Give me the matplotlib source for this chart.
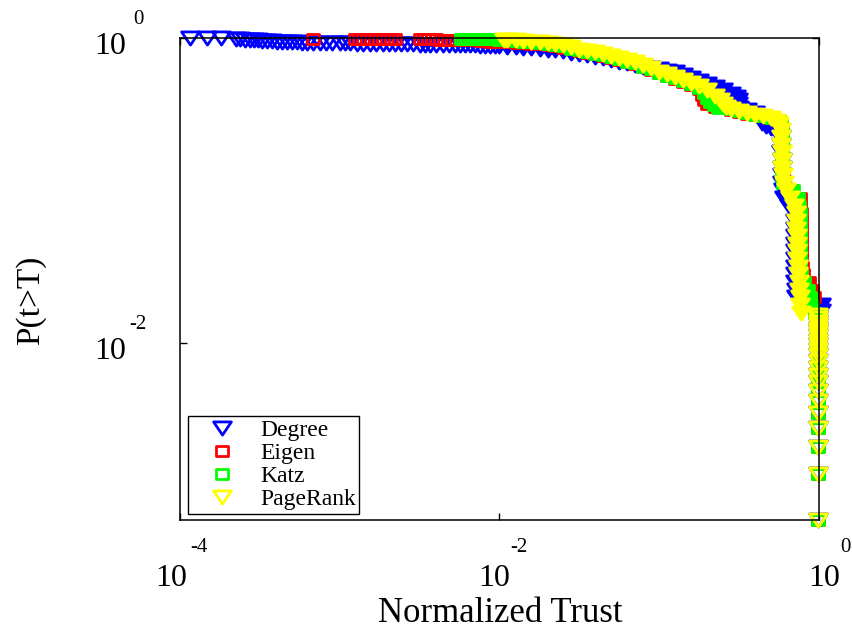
import matplotlib
matplotlib.use('Agg')
import matplotlib.pyplot as plt
from matplotlib.path import Path
from matplotlib.ticker import NullLocator, FixedLocator
from matplotlib.transforms import offset_copy

plt.rcParams['font.family'] = ['Liberation Serif', 'DejaVu Serif']

# ---------------- data ----------------
series_names = ['Degree', 'Eigen', 'Katz', 'PageRank']

degree_trust = [1.147e-4, 1.476e-4, 1.806e-4, 2.241e-4, 2.374e-4, 2.552e-4, 2.743e-4, 2.905e-4,
                3.079e-4, 3.261e-4, 3.504e-4, 3.766e-4, 4.047e-4, 4.350e-4, 4.675e-4, 5.024e-4,
                5.400e-4, 5.802e-4, 6.237e-4, 6.802e-4, 7.522e-4, 8.203e-4, 8.943e-4, 1.004e-3,
                1.079e-3, 1.159e-3, 1.282e-3, 1.398e-3, 1.547e-3, 1.686e-3, 1.866e-3, 2.034e-3,
                2.218e-3, 2.417e-3, 2.636e-3, 2.873e-3, 3.179e-3, 3.416e-3, 3.672e-3, 4.004e-3,
                4.429e-3, 4.829e-3, 5.265e-3, 5.658e-3, 6.081e-3, 6.536e-3, 7.025e-3, 7.549e-3,
                8.113e-3, 8.719e-3, 9.371e-3,
                0.0100, 0.0112, 0.0126, 0.0141, 0.0158, 0.0178, 0.0200, 0.0224, 0.0251, 0.0282,
                0.0316, 0.0355, 0.0398, 0.0447, 0.0501, 0.0562, 0.0631, 0.0708, 0.0794, 0.0891,
                0.100, 0.112, 0.126, 0.141, 0.158, 0.178, 0.200, 0.224, 0.251, 0.282,
                0.302, 0.309, 0.309, 0.316, 0.355, 0.398, 0.427, 0.437, 0.468, 0.501, 0.537,
                0.578, 0.580, 0.582, 0.584, 0.586, 0.588, 0.590, 0.595, 0.604, 0.648, 0.697, 0.707,
                0.708, 0.709, 0.709, 0.710, 0.710, 0.711, 0.711, 0.712, 0.713, 0.715, 1.03, 1.03]
degree_ccdf = [0.999, 0.998, 0.996, 0.982, 0.978, 0.974, 0.970, 0.966,
               0.963, 0.959, 0.956, 0.952, 0.948, 0.944, 0.941, 0.938,
               0.937, 0.934, 0.933, 0.932, 0.930, 0.928, 0.927, 0.925,
               0.923, 0.922, 0.920, 0.919, 0.917, 0.916, 0.913, 0.912,
               0.911, 0.910, 0.909, 0.908, 0.905, 0.904, 0.903, 0.902,
               0.900, 0.899, 0.898, 0.897, 0.896, 0.894, 0.893, 0.891,
               0.890, 0.889, 0.887,
               0.884, 0.878, 0.873, 0.866, 0.860, 0.853, 0.840, 0.828, 0.816, 0.803,
               0.785, 0.774, 0.751, 0.734, 0.717, 0.696, 0.681, 0.665, 0.650, 0.636,
               0.626, 0.608, 0.594, 0.572, 0.547, 0.523, 0.499, 0.477, 0.456, 0.429,
               0.410, 0.392, 0.369, 0.348, 0.337, 0.322, 0.299, 0.277, 0.265, 0.257, 0.246,
               0.224, 0.1995, 0.178, 0.158, 0.141, 0.126, 0.112, 0.100, 0.0891, 0.0794, 0.0708, 0.0631,
               0.0562, 0.0501, 0.0447, 0.0398, 0.0355, 0.0316, 0.0282, 0.0251, 0.0224, 0.0200, 0.0178, 0.0162]

eigen_trust = [6.802e-4,
               1.246e-3, 1.320e-3, 1.398e-3, 1.481e-3, 1.569e-3, 1.662e-3, 1.761e-3, 1.866e-3,
               1.976e-3, 2.093e-3, 2.218e-3,
               3.179e-3, 3.368e-3, 3.567e-3, 3.780e-3, 4.004e-3, 4.241e-3, 4.494e-3, 4.761e-3,
               5.043e-3,
               5.658e-3, 6.536e-3, 7.549e-3, 8.719e-3,
               0.0100, 0.0112, 0.0126, 0.0141, 0.0158, 0.0178, 0.0200, 0.0224, 0.0251, 0.0282,
               0.0316, 0.0355, 0.0398, 0.0447, 0.0501, 0.0562, 0.0631, 0.0708, 0.0794, 0.0891,
               0.100, 0.112, 0.126, 0.141, 0.158, 0.178, 0.186, 0.191, 0.200, 0.224,
               0.251, 0.282, 0.316, 0.355, 0.398, 0.447, 0.501, 0.562, 0.580,
               0.585, 0.586, 0.587, 0.588, 0.589, 0.590, 0.592, 0.600, 0.680, 0.760, 0.765, 0.770,
               0.771, 0.772, 0.773, 0.774, 0.775, 0.776, 0.778, 0.790, 0.870, 0.910, 0.930]
eigen_ccdf = [0.992,
              0.9880, 0.9875, 0.9870, 0.9865, 0.9860, 0.9855, 0.9850, 0.9845,
              0.9840, 0.9835, 0.9830,
              0.9800, 0.9795, 0.9790, 0.9785, 0.9780, 0.9775, 0.9770, 0.9765,
              0.9760,
              0.970, 0.963, 0.956, 0.948,
              0.941, 0.937, 0.933, 0.927, 0.920, 0.913, 0.900, 0.886, 0.866, 0.847,
              0.822, 0.803, 0.785, 0.762, 0.740, 0.717, 0.696, 0.675, 0.645, 0.617,
              0.590, 0.563, 0.538, 0.515, 0.492, 0.463, 0.423, 0.392, 0.369, 0.353,
              0.360, 0.338, 0.328, 0.318, 0.312, 0.307, 0.298, 0.287, 0.275,
              0.251, 0.224, 0.1995, 0.178, 0.158, 0.141, 0.126, 0.112, 0.100, 0.0891, 0.0794, 0.0708,
              0.0631, 0.0562, 0.0501, 0.0447, 0.0398, 0.0355, 0.0316, 0.0282, 0.0251, 0.0224, 0.0200]

katz_trust = [5.741e-3, 5.995e-3, 6.259e-3, 6.536e-3, 6.825e-3, 7.126e-3, 7.441e-3, 7.770e-3,
              8.113e-3, 8.472e-3, 8.845e-3, 9.239e-3, 9.647e-3,
              0.0100, 0.0112, 0.0126, 0.0141, 0.0158, 0.0178, 0.0200, 0.0224, 0.0251, 0.0282,
              0.0316, 0.0355, 0.0398, 0.0447, 0.0501, 0.0562, 0.0631, 0.0708, 0.0794, 0.0891,
              0.100, 0.112, 0.126, 0.141, 0.158, 0.178, 0.191, 0.200, 0.209, 0.219,
              0.234, 0.251, 0.282, 0.316, 0.355, 0.398, 0.447, 0.501, 0.562, 0.580,
              0.585, 0.585, 0.586, 0.586, 0.587, 0.588, 0.590, 0.598, 0.690, 0.740, 0.750, 0.755,
              0.758, 0.759, 0.760, 0.761, 0.762, 0.763, 0.765, 0.775, 0.810, 0.850, 0.880, 0.910, 0.940]
katz_ccdf = [0.990, 0.989, 0.988, 0.987, 0.986, 0.985, 0.984, 0.983,
             0.982, 0.981, 0.980, 0.979, 0.978,
             0.970, 0.963, 0.956, 0.948, 0.941, 0.934, 0.920, 0.900, 0.880, 0.853,
             0.828, 0.810, 0.791, 0.768, 0.745, 0.723, 0.701, 0.681, 0.650, 0.622,
             0.590, 0.567, 0.543, 0.519, 0.496, 0.470, 0.436, 0.404, 0.380, 0.364,
             0.348, 0.362, 0.340, 0.330, 0.320, 0.313, 0.308, 0.300, 0.288, 0.277,
             0.251, 0.224, 0.1995, 0.178, 0.158, 0.141, 0.126, 0.112, 0.100, 0.0891, 0.0794, 0.0708,
             0.0631, 0.0562, 0.0501, 0.0447, 0.0398, 0.0355, 0.0316, 0.0282, 0.0251, 0.0224, 0.0200, 0.0178, 0.0158]

pagerank_trust = [0.0107, 0.0112, 0.0126, 0.0141, 0.0158, 0.0178, 0.0200, 0.0224, 0.0251, 0.0282,
                  0.0316, 0.0355, 0.0398, 0.0447, 0.0501, 0.0562, 0.0631, 0.0708, 0.0794, 0.0891,
                  0.100, 0.112, 0.126, 0.141, 0.158, 0.178, 0.200, 0.224, 0.240, 0.251,
                  0.263, 0.282, 0.316, 0.355, 0.398, 0.447, 0.501, 0.537,
                  0.560, 0.575, 0.580, 0.582, 0.585, 0.587, 0.590, 0.593, 0.600, 0.621,
                  0.658, 0.697, 0.718, 0.720, 0.722, 0.725, 0.727, 0.729, 0.731, 0.735,
                  0.739, 0.745, 0.750, 0.755, 0.760, 0.771]
pagerank_ccdf = [0.975, 0.970, 0.963, 0.956, 0.948, 0.941, 0.927, 0.913, 0.900, 0.873,
                 0.840, 0.822, 0.810, 0.785, 0.762, 0.740, 0.717, 0.696, 0.665, 0.636,
                 0.598, 0.581, 0.555, 0.530, 0.507, 0.484, 0.456, 0.417, 0.392, 0.369,
                 0.353, 0.342, 0.332, 0.322, 0.313, 0.308, 0.299, 0.286,
                 0.273, 0.251, 0.224, 0.1995, 0.178, 0.158, 0.141, 0.126, 0.112, 0.100,
                 0.0891, 0.0794, 0.0708, 0.0631, 0.0562, 0.0501, 0.0447, 0.0398, 0.0355, 0.0316,
                 0.0282, 0.0251, 0.0224, 0.0200, 0.0178, 0.0158]

# shared tail: the last nodes, all with trust close to 1
tail_trust = 0.98
tail_ccdf = [0.01517, 0.01448, 0.01379, 0.01310, 0.01241, 0.01172, 0.01103, 0.01034,
             0.00966, 0.00897, 0.00828, 0.00759, 0.00690, 0.00621, 0.00552, 0.00483,
             0.00414, 0.00345, 0.00276, 0.00207, 0.00138, 0.00069]

x_ticks = [1e-4, 1e-2, 1e0]
x_tick_exps = ['-4', '-2', '0']
y_ticks = [1e0, 1e-2]
y_tick_exps = ['0', '-2']

# ---------------- style ----------------
colors = ['#0000FF', '#FF0000', '#00FF00', '#FFFF00']
tri = Path([(-1.0, 0.74), (1.0, 0.74), (0.0, -0.74), (-1.0, 0.74)],
           [Path.MOVETO, Path.LINETO, Path.LINETO, Path.CLOSEPOLY])
sq = Path([(-1.0, -0.85), (1.0, -0.85), (1.0, 0.85), (-1.0, 0.85), (-1.0, -0.85)],
          [Path.MOVETO, Path.LINETO, Path.LINETO, Path.LINETO, Path.CLOSEPOLY])
markers = [tri, sq, sq, tri]
msizes = [12.8, 8.3, 8.3, 12.8]
SPARSE_LIMIT = 0.0098   # below this trust the points stand apart (open markers)
DENSE_FLOOR = 0.0155    # above this CCDF the points of the curve pile into a solid band

fig = plt.figure(figsize=(8.53, 6.30), dpi=100)
ax = fig.add_axes([180 / 853, 110 / 630, 639 / 853, 482 / 630])

all_x = [degree_trust, eigen_trust, katz_trust, pagerank_trust]
all_y = [degree_ccdf, eigen_ccdf, katz_ccdf, pagerank_ccdf]
for name, xs, ys, c, m, s in zip(series_names, all_x, all_y, colors, markers, msizes):
    xx = list(xs) + [tail_trust] * len(tail_ccdf)
    yy = list(ys) + list(tail_ccdf)
    is_dense = [a >= SPARSE_LIMIT and b > DENSE_FLOOR for a, b in zip(xx, yy)]
    kw = dict(linestyle='none', marker=m, markersize=s, markeredgecolor=c,
              markeredgewidth=2.0, clip_on=False)
    ax.plot([a for a, d in zip(xx, is_dense) if not d], [b for b, d in zip(yy, is_dense) if not d],
            markerfacecolor='none', label=name, **kw)
    ax.plot([a for a, d in zip(xx, is_dense) if d], [b for b, d in zip(yy, is_dense) if d],
            markerfacecolor=c, **kw)

ax.set_xscale('log')
ax.set_yscale('log')
ax.set_xlim(1e-4, 1e0)
ax.set_ylim(0.00069, 1e0)
ax.xaxis.set_major_locator(FixedLocator(x_ticks))
ax.yaxis.set_major_locator(FixedLocator(y_ticks))
ax.xaxis.set_minor_locator(NullLocator())
ax.yaxis.set_minor_locator(NullLocator())
ax.tick_params(which='both', direction='in', length=5, width=1, top=True, right=True,
               labelbottom=False, labelleft=False)
for sp in ax.spines.values():
    sp.set_linewidth(1.1)
    sp.set_color('black')

# MATLAB-like tick labels: "10" with raised exponent
xtr = ax.get_xaxis_transform()
for t, e, d10, de in zip(x_ticks, x_tick_exps, [-9, -5, 5], [19, 19.5, 26]):
    ax.text(t, 0, '10', transform=offset_copy(xtr, fig=fig, x=d10, y=-59, units='dots'),
            ha='center', va='center', fontsize=23)
    ax.text(t, 0, e, transform=offset_copy(xtr, fig=fig, x=de, y=-28, units='dots'),
            ha='center', va='center', fontsize=15)
ytr = ax.get_yaxis_transform()
for t, e in zip(y_ticks, y_tick_exps):
    ax.text(0, t, '10', transform=offset_copy(ytr, fig=fig, x=-70, y=-9, units='dots'),
            ha='center', va='center', fontsize=23)
    ax.text(0, t, e, transform=offset_copy(ytr, fig=fig, x=-42, y=18, units='dots'),
            ha='center', va='center', fontsize=15)

ax.set_xlabel('Normalized Trust', fontsize=25)
ax.xaxis.set_label_coords(0.502, -0.193)
ax.xaxis.label.set_va('center')
ax.set_ylabel('P(t>T)', fontsize=24)
ax.yaxis.set_label_coords(-0.233, 0.456)
ax.yaxis.label.set_va('center')

leg = ax.legend(loc='lower left', bbox_to_anchor=(0.0125, 0.0125), borderaxespad=0,
                fontsize=17, frameon=True, fancybox=False, framealpha=1, edgecolor='black',
                borderpad=0.15, handlelength=2.6, handletextpad=0.3, labelspacing=0.07,
                numpoints=1)
leg.get_frame().set_linewidth(1.0)

fig.savefig('out.png', dpi=100, facecolor='white')
